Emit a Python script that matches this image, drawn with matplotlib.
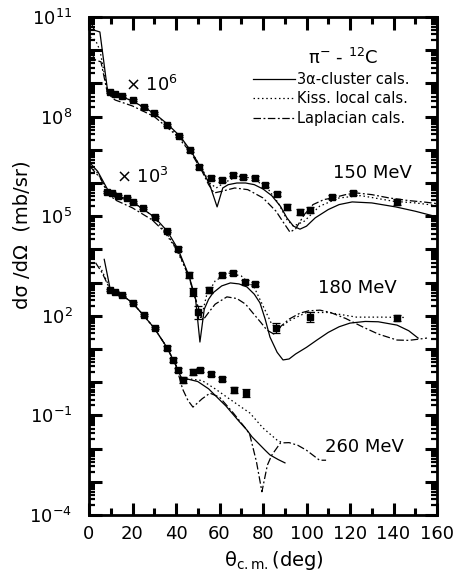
import numpy as np
import matplotlib
matplotlib.use("Agg")
import matplotlib.pyplot as plt
from matplotlib.lines import Line2D
from matplotlib.ticker import FixedLocator, FuncFormatter, NullFormatter

plt.rcParams['font.family'] = 'DejaVu Sans'
plt.rcParams['mathtext.fontset'] = 'dejavusans'

# ---------------- data (log10 of plotted cross sections, mb/sr) ----------------
# 150 MeV (x 10^6)
x150 = [9.7, 12.0, 15.2, 20.2, 25.3, 29.9, 35.9, 41.4, 46.4, 50.6, 55.9, 61.1, 66.2, 70.8,
        76.3, 80.9, 86.4, 91.0, 97.0, 101.6, 111.7, 121.4, 141.6]
y150 = [8.74, 8.68, 8.62, 8.50, 8.29, 8.11, 7.75, 7.42, 6.98, 6.48, 6.15, 6.09, 6.25, 6.18,
        6.15, 5.94, 5.67, 5.28, 5.13, 5.19, 5.58, 5.70, 5.43]
e150 = [0.03, 0.03, 0.03, 0.03, 0.04, 0.04, 0.04, 0.04, 0.05, 0.05, 0.06, 0.06, 0.05, 0.05,
        0.05, 0.05, 0.06, 0.10, 0.10, 0.10, 0.06, 0.05, 0.08]

# 180 MeV (x 10^3)
x180 = [8.3, 10.6, 13.3, 17.5, 20.2, 24.8, 30.3, 35.9, 40.9, 46.0, 47.8, 50.1, 55.2, 61.1,
        66.2, 71.7, 76.3, 86.0, 101.6, 141.6]
y180 = [5.73, 5.70, 5.61, 5.55, 5.43, 5.25, 4.98, 4.55, 4.01, 3.23, 2.72, 2.11, 2.78, 3.23,
        3.29, 3.02, 2.96, 1.63, 1.96, 1.93]
e180 = [0.03, 0.03, 0.03, 0.03, 0.03, 0.04, 0.04, 0.04, 0.05, 0.08, 0.12, 0.20, 0.10, 0.06,
        0.05, 0.06, 0.06, 0.16, 0.16, 0.08]

# 260 MeV (x 1)
x260 = [9.7, 12.0, 15.2, 20.2, 25.3, 30.3, 35.9, 38.6, 40.9, 43.2, 47.8, 51.0, 56.0, 61.1,
        66.7, 72.2]
y260 = [2.78, 2.72, 2.63, 2.39, 2.02, 1.63, 1.03, 0.67, 0.37, 0.07, 0.31, 0.37, 0.25, 0.10,
        -0.23, -0.33]
e260 = [0.03, 0.03, 0.03, 0.03, 0.04, 0.04, 0.05, 0.05, 0.06, 0.10, 0.08, 0.06, 0.06, 0.06,
        0.10, 0.12]

# calculations: 3alpha-cluster (solid), Kisslinger local (dotted), Laplacian (dash-dot)
s150_x = [0.5, 2.5, 5.0, 8.5, 12, 20, 30, 36, 42, 47, 52, 55.5, 58.9, 61.5, 64, 68, 72, 76,
          80, 84, 88, 91, 94, 97, 100, 104, 110, 115, 121, 130, 141, 150, 160]
s150_y = [10.9, 10.6, 10.55, 8.8, 8.68, 8.47, 8.1, 7.78, 7.4, 6.95, 6.4, 5.95, 5.28, 5.85,
          5.95, 6.0, 6.0, 5.95, 5.82, 5.62, 5.3, 4.95, 4.7, 4.61, 4.7, 4.95, 5.2, 5.35, 5.43,
          5.4, 5.28, 5.15, 4.98]
k150_x = [0.5, 3, 5, 8.5, 12, 20, 30, 40, 47, 52, 55.5, 58.5, 62, 68, 75, 82, 87, 91, 94,
          99, 106, 115, 125, 140, 150, 160]
k150_y = [10.4, 10.3, 10.0, 8.8, 8.68, 8.47, 8.1, 7.5, 6.95, 6.42, 6.0, 5.85, 6.0, 6.2,
          6.15, 5.85, 5.4, 4.9, 4.7, 4.85, 5.3, 5.55, 5.62, 5.45, 5.4, 5.32]
l150_x = [0.5, 3, 5.5, 8.5, 12, 20, 30, 40, 47, 52, 55, 57.5, 61, 67, 73, 80, 86, 89, 92.4,
          95, 99, 103, 108, 112, 118, 123, 130, 138, 147, 155, 160]
l150_y = [10.0, 9.7, 9.65, 8.7, 8.5, 8.32, 8.0, 7.45, 6.9, 6.35, 5.95, 5.7, 5.75, 5.85, 5.8,
          5.55, 5.15, 4.85, 4.52, 4.62, 5.05, 5.35, 5.5, 5.55, 5.65, 5.7, 5.65, 5.55, 5.47,
          5.42, 5.38]

s180_x = [0.5, 4, 9, 14, 20, 30, 36, 41, 46, 49, 51, 53, 55, 57, 61, 65, 69, 72.6, 76, 78.6,
          81, 83.2, 86.5, 89.2, 92, 95, 100, 104.8, 110, 115, 120, 127, 133, 141.6, 147, 151.3]
s180_y = [6.6, 6.35, 5.75, 5.6, 5.43, 4.98, 4.55, 4.0, 3.2, 2.5, 1.21, 2.2, 2.5, 2.69, 2.9,
          2.99, 2.96, 2.87, 2.65, 2.39, 1.9, 1.36, 0.9, 0.67, 0.7, 0.85, 1.05, 1.27, 1.5, 1.67,
          1.78, 1.83, 1.82, 1.72, 1.55, 1.33]
k180_x = [0.5, 4, 8.5, 12, 20, 30, 40, 46, 49, 51.5, 54, 58, 64, 70, 76, 80, 84, 87, 92,
          100, 110, 123, 135, 145]
k180_y = [6.5, 6.3, 5.75, 5.6, 5.43, 4.98, 4.02, 3.2, 2.5, 1.9, 2.6, 3.05, 3.29, 3.2, 2.85,
          2.3, 1.75, 1.6, 1.85, 2.1, 2.1, 1.96, 1.96, 1.95]
l180_x = [0.5, 3, 5, 8.5, 12, 20, 29, 36, 41, 46, 49.5, 52.4, 55, 58, 63.4, 68, 72, 75.4, 79,
          81.8, 85, 87.8, 92, 97, 101, 106.2, 111, 118, 126, 133, 141.6, 147, 152, 155.4]
l180_y = [6.5, 6.3, 6.18, 5.7, 5.49, 5.25, 4.89, 4.45, 3.95, 3.15, 2.4, 1.87, 2.1, 2.35,
          2.57, 2.52, 2.35, 2.08, 1.8, 1.57, 1.45, 1.66, 1.9, 2.08, 2.15, 2.17, 2.1, 1.92,
          1.66, 1.45, 1.27, 1.26, 1.30, 1.33]

s260_x = [7, 9.7, 15, 20, 25, 30, 36, 40, 43, 45, 50, 55, 60.2, 63, 66, 69, 72.6, 75, 78,
          81, 83.2, 87, 90.1]
s260_y = [3.7, 2.82, 2.63, 2.39, 2.02, 1.63, 1.03, 0.5, 0.05, 0.1, 0.02, -0.2, -0.54, -0.72,
          -0.95, -1.18, -1.44, -1.65, -1.85, -2.05, -2.19, -2.33, -2.43]
k260_x = [5, 9.7, 15, 20, 25, 30, 36, 40, 43, 46, 52, 58, 63.4, 70, 74, 80, 86.4, 89]
k260_y = [3.5, 2.82, 2.63, 2.39, 2.02, 1.63, 1.03, 0.5, 0.05, 0.1, 0.05, -0.2, -0.45, -0.75,
          -0.93, -1.38, -1.74, -1.83]
l260_x = [3, 6, 9.5, 15, 20, 25, 30, 36, 40, 43, 45.5, 47.8, 50, 52, 55.6, 60, 66, 72.6, 74,
          77, 79.5, 82, 84, 88, 92, 96, 100, 103, 106, 109]
l260_y = [3.6, 3.3, 2.82, 2.63, 2.39, 2.02, 1.63, 1.03, 0.5, -0.2, -0.55, -0.75, -0.62, -0.5,
          -0.33, -0.45, -0.9, -1.44, -1.6, -2.4, -3.3, -2.5, -2.2, -1.83, -1.82, -1.9, -2.05,
          -2.2, -2.35, -2.35]

legend_labels = ["3\u03b1-cluster cals.", "Kiss. local cals.", "Laplacian cals."]
x_ticks = [0, 20, 40, 60, 80, 100, 120, 140, 160]
y_label_exps = [11, 8, 5, 2, -1, -4]

# ---------------- figure ----------------
W, H = 458, 586
fig = plt.figure(figsize=(W / 100, H / 100), dpi=100)
ax = fig.add_axes([89 / W, 1 - 515 / H, (437 - 89) / W, (515 - 17) / H])
ax.set_yscale('log')

lw = 0.9
dot = (0, (1.2, 2.2))
dashdot = (0, (6, 2, 1.5, 2))


def p(v):
    return np.power(10.0, np.asarray(v, dtype=float))


for sx, sy, kx, ky, lx, ly in [(s150_x, s150_y, k150_x, k150_y, l150_x, l150_y),
                               (s180_x, s180_y, k180_x, k180_y, l180_x, l180_y),
                               (s260_x, s260_y, k260_x, k260_y, l260_x, l260_y)]:
    ax.plot(sx, p(sy), color='black', lw=lw, ls='-')
    ax.plot(kx, p(ky), color='black', lw=lw, ls=dot)
    ax.plot(lx, p(ly), color='black', lw=lw, ls=dashdot)

for xd, yd, ed in [(x150, y150, e150), (x180, y180, e180), (x260, y260, e260)]:
    yv = p(yd)
    lo = yv - p(np.asarray(yd) - np.asarray(ed))
    hi = p(np.asarray(yd) + np.asarray(ed)) - yv
    ax.errorbar(xd, yv, yerr=[lo, hi], fmt='s', ms=4.8, color='black', mfc='black',
                mec='black', ecolor='black', elinewidth=0.9, capsize=3, capthick=0.9)

ax.set_xlim(0, 160)
ax.set_ylim(1e-4, 1e11)

# ticks
ax.xaxis.set_major_locator(FixedLocator(x_ticks))
ax.xaxis.set_minor_locator(FixedLocator(list(range(10, 160, 20))))
ax.set_xticklabels([str(t) for t in x_ticks])
ax.yaxis.set_major_locator(FixedLocator([10.0 ** e for e in range(-4, 12)]))
minors = [m * 10.0 ** e for e in range(-4, 11) for m in range(2, 10)]
ax.yaxis.set_minor_locator(FixedLocator(minors))
ax.yaxis.set_minor_formatter(NullFormatter())


def yfmt(v, pos):
    e = int(round(np.log10(v)))
    return r'$10^{%d}$' % e if e in y_label_exps else ''


ax.yaxis.set_major_formatter(FuncFormatter(yfmt))
ax.tick_params(which='both', direction='in', top=True, right=True, color='black')
ax.tick_params(axis='x', which='major', length=9, width=2.2, labelsize=13, pad=7)
ax.tick_params(axis='x', which='minor', length=5, width=2.2)
ax.tick_params(axis='y', which='major', length=9, width=2.2, labelsize=13, pad=12)
ax.tick_params(axis='y', which='minor', length=4.5, width=1.6)
for s in ax.spines.values():
    s.set_linewidth(2.0)

# labels
fig.text(22 / W, 1 - 235 / H, "d\u03c3 /d\u03a9  (mb/sr)", rotation=90, fontsize=14,
         ha='center', va='center')
fig.text(274 / W, 1 - 560 / H, "\u03b8$_{\\mathrm{c.m.}}$(deg)", fontsize=14,
         ha='center', va='center')


def fr(px, py):
    return ((px - 89) / 348, (515 - py) / 498)


ax.text(*fr(343, 58), "\u03c0$^{-}$ - $^{12}$C", transform=ax.transAxes, fontsize=13,
        ha='center', va='center')
ax.text(*fr(125, 85), r"$\times$ 10$^{6}$", transform=ax.transAxes, fontsize=13,
        ha='left', va='center')
ax.text(*fr(116, 177), r"$\times$ 10$^{3}$", transform=ax.transAxes, fontsize=13,
        ha='left', va='center')
ax.text(*fr(333, 173), "150 MeV", transform=ax.transAxes, fontsize=13, ha='left', va='center')
ax.text(*fr(318, 288), "180 MeV", transform=ax.transAxes, fontsize=13, ha='left', va='center')
ax.text(*fr(325, 447), "260 MeV", transform=ax.transAxes, fontsize=13, ha='left', va='center')

handles = [Line2D([], [], color='black', lw=lw, ls='-'),
           Line2D([], [], color='black', lw=lw, ls=dot),
           Line2D([], [], color='black', lw=lw, ls=dashdot)]
ax.legend(handles, legend_labels, loc='upper left', bbox_to_anchor=fr(253, 72),
          frameon=False, fontsize=10.5, handlelength=2.9, handletextpad=0.15,
          labelspacing=0.3, borderpad=0, borderaxespad=0)

fig.savefig("out.png", dpi=100)
